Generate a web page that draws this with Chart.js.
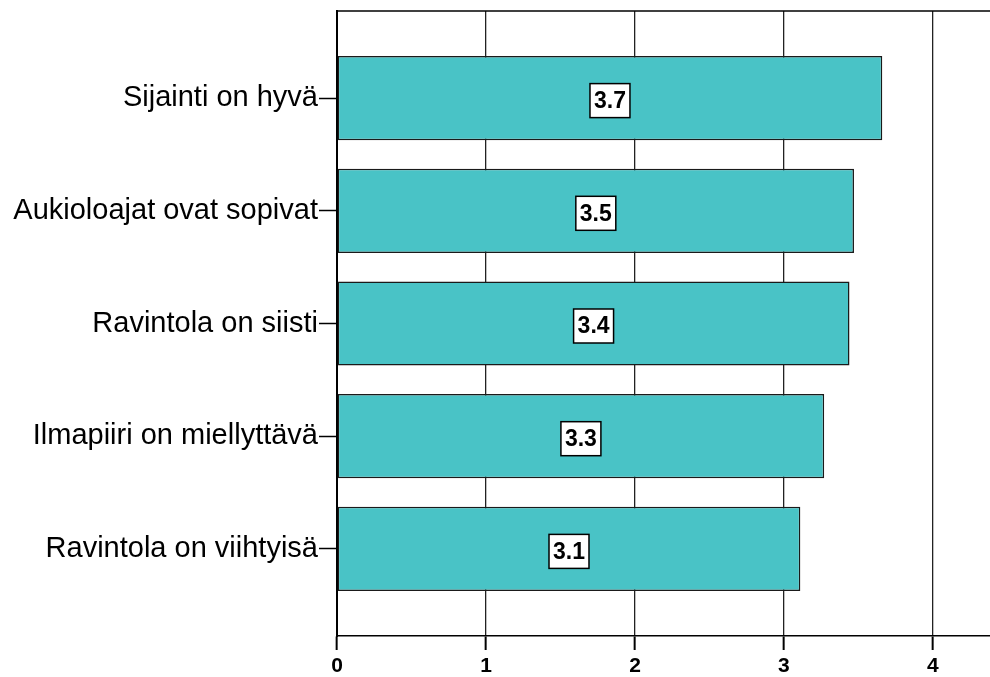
<!DOCTYPE html>
<html>
<head>
<meta charset="utf-8">
<script src="https://cdn.jsdelivr.net/npm/chart.js@4.4.1/dist/chart.umd.min.js"></script>
<style>
  html, body { margin: 0; padding: 0; background: #ffffff; }
  #wrap { width: 990px; height: 677px; position: relative; }
</style>
</head>
<body>
<div id="wrap"><canvas id="chart"></canvas></div>
<script>
// Statements, top to bottom
const categories = [
  'Sijainti on hyvä',
  'Aukioloajat ovat sopivat',
  'Ravintola on siisti',
  'Ilmapiiri on miellyttävä',
  'Ravintola on viihtyisä'
];
// Mean score for each statement
const meanScores = [3.66, 3.47, 3.44, 3.27, 3.11];
// Value axis ticks
const axisTicks = [0, 1, 2, 3, 4];

const FONT = '"Liberation Sans", Arial, Helvetica, sans-serif';

// Top frame line of the plot area
const frameTop = {
  id: 'frameTop',
  afterDatasetsDraw(chart) {
    const { ctx, chartArea } = chart;
    ctx.save();
    ctx.strokeStyle = '#000';
    ctx.lineWidth = 1.5;
    ctx.beginPath();
    ctx.moveTo(chartArea.left, chartArea.top);
    ctx.lineTo(chartArea.right, chartArea.top);
    ctx.stroke();
    ctx.restore();
  }
};

// Boxed value label in the middle of each bar
const valueBoxes = {
  id: 'valueBoxes',
  afterDatasetsDraw(chart) {
    const { ctx } = chart;
    const meta = chart.getDatasetMeta(0);
    ctx.save();
    ctx.font = 'bold 23px ' + FONT;
    ctx.textAlign = 'center';
    ctx.textBaseline = 'middle';
    meta.data.forEach((bar, i) => {
      const text = meanScores[i].toFixed(1);
      const cx = (bar.base + bar.x) / 2;
      const cy = bar.y + 2.5;
      const w = ctx.measureText(text).width + 8;
      const h = 34;
      ctx.fillStyle = '#ffffff';
      ctx.fillRect(cx - w / 2, cy - h / 2, w, h);
      ctx.strokeStyle = '#000';
      ctx.lineWidth = 1.5;
      ctx.strokeRect(cx - w / 2, cy - h / 2, w, h);
      ctx.fillStyle = '#000';
      ctx.fillText(text, cx, cy + 1);
    });
    ctx.restore();
  }
};

new Chart(document.getElementById('chart'), {
  type: 'bar',
  data: {
    datasets: [{
      data: meanScores.map((v, i) => ({ x: v, y: i })),
      backgroundColor: '#49c3c6',
      borderColor: '#1a1a1a',
      borderWidth: 1.5,
      borderSkipped: false,
      categoryPercentage: 1,
      barPercentage: 0.747
    }]
  },
  options: {
    indexAxis: 'y',
    responsive: true,
    maintainAspectRatio: false,
    animation: false,
    layout: { padding: { top: 11, right: 0, bottom: 0, left: 0 } },
    plugins: {
      legend: { display: false },
      tooltip: { enabled: false }
    },
    scales: {
      x: {
        type: 'linear',
        position: 'bottom',
        min: 0,
        max: 4.383,
        afterBuildTicks: (scale) => { scale.ticks = axisTicks.map(v => ({ value: v })); },
        afterFit: (scale) => { scale.height = 41; scale.paddingLeft = 0; scale.paddingRight = 0; },
        ticks: {
          padding: 4,
          color: '#000',
          font: { family: FONT, size: 21, weight: 'bold' },
          callback: (v) => String(v)
        },
        grid: {
          color: '#222',
          lineWidth: 1.3,
          tickLength: 14,
          tickColor: '#000',
          tickWidth: 2
        },
        border: { display: true, color: '#000', width: 1.5 }
      },
      y: {
        type: 'linear',
        reverse: true,
        offset: false,
        min: -0.773,
        max: categories.length - 1 + 0.773,
        afterBuildTicks: (scale) => { scale.ticks = categories.map((_, i) => ({ value: i })); },
        afterFit: (scale) => { scale.width = 337; scale.paddingTop = 0; scale.paddingBottom = 0; },
        ticks: {
          padding: 1,
          color: '#000',
          font: { family: FONT, size: 29 },
          callback: (v) => categories[v] ?? ''
        },
        grid: {
          offset: false,
          drawOnChartArea: false,
          tickLength: 18,
          tickColor: '#000',
          tickWidth: 1.5
        },
        border: { display: true, color: '#000', width: 2 }
      }
    }
  },
  plugins: [frameTop, valueBoxes]
});
</script>
</body>
</html>
